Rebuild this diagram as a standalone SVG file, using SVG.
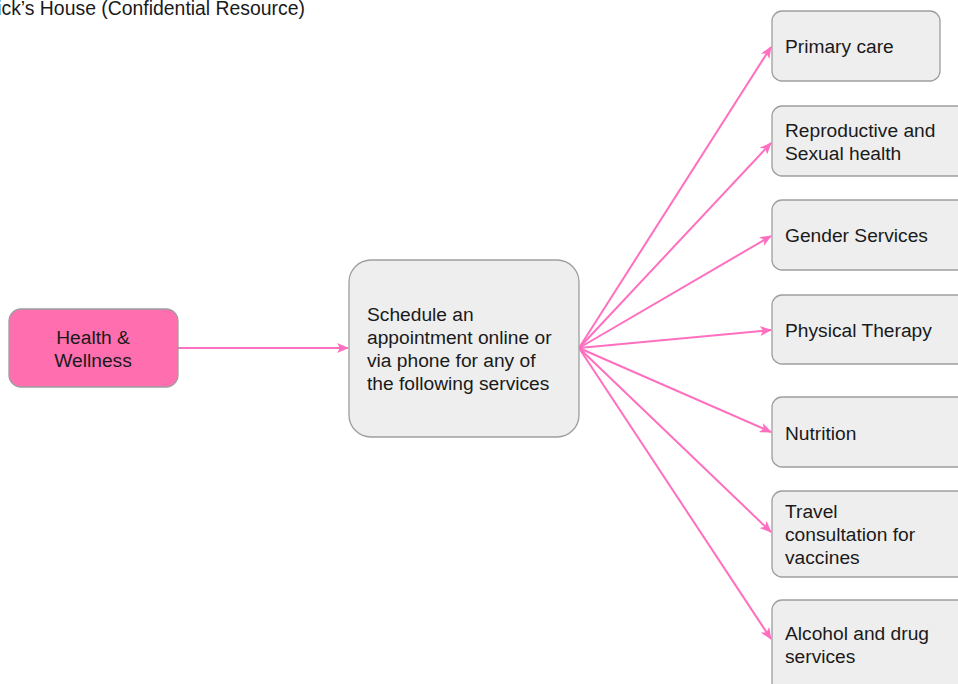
<svg xmlns="http://www.w3.org/2000/svg" width="958" height="684" viewBox="0 0 958 684">
<defs>
<style>
.t{font-family:"Liberation Sans",Arial,sans-serif;font-size:19.2px;fill:#1a1a1a}
.box{fill:#eeeeee;stroke:#9e9e9e;stroke-width:1.3}
.pink{fill:#ff6fb0;stroke:#9e9e9e;stroke-width:1.3}
.c{fill:none;stroke:#ff6fbf;stroke-width:2}
</style>
<marker id="ah" viewBox="0 0 12 10" refX="11" refY="5" markerWidth="12" markerHeight="10" markerUnits="userSpaceOnUse" orient="auto">
<path d="M0,0 L12,5 L0,10 L3,5 Z" fill="#ff6fbf"/>
</marker>
</defs>
<rect width="958" height="684" fill="#ffffff"/>
<text class="t" x="305" y="15" text-anchor="end" style="font-size:19.4px">ick’s House (Confidential Resource)</text>
<g id="connectors">
<line class="c" x1="178" y1="348" x2="348" y2="348" marker-end="url(#ah)"/>
<line class="c" x1="579" y1="348" x2="771" y2="47" marker-end="url(#ah)"/>
<line class="c" x1="579" y1="348" x2="771" y2="143" marker-end="url(#ah)"/>
<line class="c" x1="579" y1="348" x2="771" y2="236" marker-end="url(#ah)"/>
<line class="c" x1="579" y1="348" x2="771" y2="330" marker-end="url(#ah)"/>
<line class="c" x1="579" y1="348" x2="771" y2="432" marker-end="url(#ah)"/>
<line class="c" x1="579" y1="348" x2="771" y2="532" marker-end="url(#ah)"/>
<line class="c" x1="579" y1="348" x2="771" y2="639" marker-end="url(#ah)"/>
</g>
<g id="health">
<rect class="pink" x="9" y="309" width="169" height="78" rx="12"/>
<text class="t" x="93" y="344" text-anchor="middle">Health &amp;</text>
<text class="t" x="93" y="367" text-anchor="middle">Wellness</text>
</g>
<g id="schedule">
<rect class="box" x="349" y="260" width="230" height="177" rx="22"/>
<text class="t" x="367" y="321">Schedule an</text>
<text class="t" x="367" y="344">appointment online or</text>
<text class="t" x="367" y="367">via phone for any of</text>
<text class="t" x="367" y="390">the following services</text>
</g>
<g id="primary">
<rect class="box" x="772" y="11" width="168" height="70" rx="10"/>
<text class="t" x="785" y="53">Primary care</text>
</g>
<g id="reproductive">
<rect class="box" x="772" y="106" width="200" height="70" rx="10"/>
<text class="t" x="785" y="137">Reproductive and</text>
<text class="t" x="785" y="160">Sexual health</text>
</g>
<g id="gender">
<rect class="box" x="772" y="200" width="200" height="70" rx="10"/>
<text class="t" x="785" y="242">Gender Services</text>
</g>
<g id="physical">
<rect class="box" x="772" y="295" width="200" height="69" rx="10"/>
<text class="t" x="785" y="337">Physical Therapy</text>
</g>
<g id="nutrition">
<rect class="box" x="772" y="397" width="200" height="70" rx="10"/>
<text class="t" x="785" y="440">Nutrition</text>
</g>
<g id="travel">
<rect class="box" x="772" y="491" width="200" height="86" rx="10"/>
<text class="t" x="785" y="518">Travel</text>
<text class="t" x="785" y="541">consultation for</text>
<text class="t" x="785" y="564">vaccines</text>
</g>
<g id="alcohol">
<rect class="box" x="772" y="600" width="200" height="100" rx="10"/>
<text class="t" x="785" y="640">Alcohol and drug</text>
<text class="t" x="785" y="663">services</text>
</g>
</svg>
